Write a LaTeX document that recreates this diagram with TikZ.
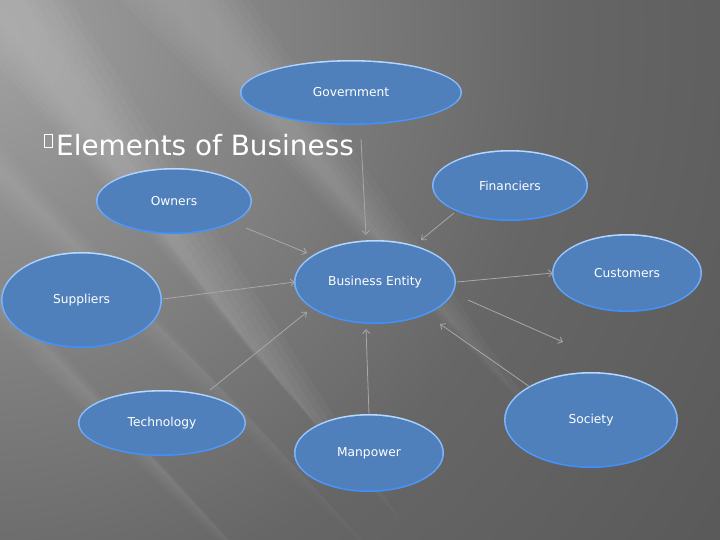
\documentclass[tikz,border=0pt]{standalone}
\usepackage{fontspec}
\setmainfont{DejaVu Sans}
\usetikzlibrary{shapes.geometric,arrows.meta}

\definecolor{bubblefill}{HTML}{4F80BB}
\definecolor{rimtop}{HTML}{B8DAFF}
\definecolor{rimbot}{HTML}{3C8EFF}
\definecolor{linkgray}{HTML}{A8A8A8}
\definecolor{bgA}{HTML}{A2A2A2}
\definecolor{bgB}{HTML}{8A8A8A}
\definecolor{bgC}{HTML}{666666}
\definecolor{bgD}{HTML}{525252}
\definecolor{bgE}{HTML}{474747}

% soft radial glow for the backdrop
\pgfdeclareradialshading{backglow}{\pgfpoint{0bp}{0bp}}{%
  color(0bp)=(bgA); color(6bp)=(bgB); color(16bp)=(bgC);
  color(30bp)=(bgD); color(50bp)=(bgE)}

\tikzset{
  bubble/.style 2 args={ellipse, minimum width=#1bp, minimum height=#2bp,
    inner sep=0pt, outer sep=0pt, top color=rimtop, bottom color=rimbot,
    text=white, font=\fontsize{12.3}{14}\selectfont,
    path picture={\fill[bubblefill] (path picture bounding box.center)
      ellipse [x radius=#1/2-1.6, y radius=#2/2-1.6];}},
  link/.style={draw=linkgray, line width=0.8bp,
    -{Straight Barb[length=4bp,width=7bp]}},
  streak/.style={fill=white, opacity=#1}
}

\begin{document}
\begin{tikzpicture}[x=1bp, y=-1bp]
  \useasboundingbox (0,0) rectangle (720,540);

  % backdrop: radial glow plus soft light rays from the upper left;
  % every inner layer of a ray is narrower and stops earlier, so it fades out
  \begin{scope}
    \clip (0,0) rectangle (720,540);
    \shade[shading=backglow] (-20,40) circle (900);
    % each ray: top-edge intercepts, far tip, strength
    \foreach \a/\b/\tx/\ty/\op in {-60/70/400/520/0.03,
                                   120/250/540/420/0.028,
                                   -340/-250/300/620/0.022,
                                   -220/-130/380/560/0.018} {
      \foreach \k in {0,...,5} {
        \fill[streak=\op] (\a+\k*9,0) -- (\b-\k*9,0)
          -- (\tx-\k*26,\ty-\k*29) -- cycle;
      }
    }
  \end{scope}

  % title
  \draw[white, line width=0.6bp] (44,134) rectangle (52,147);
  \node[anchor=base west, inner sep=0pt, text=white,
        font=\fontsize{28}{32}\selectfont] (title) at (56,156) {Elements of Business};

  % bubbles
  \node[bubble={222}{65}] (gov)  at (351,92.5) {Government};
  \node[bubble={156}{71}] (fin)  at (510,185.5) {Financiers};
  \node[bubble={156}{66}] (own)  at (174,201) {Owners};
  \node[bubble={161}{96}] (sup)  at (81.5,300) {Suppliers};
  \node[bubble={162}{84}] (be)   at (375,282) {Business Entity};
  \node[bubble={150}{78}] (cus)  at (627,273) {Customers};
  \node[bubble={168}{66}] (tech) at (162,423) {Technology};
  \node[bubble={150}{78}] (man)  at (369,453) {Manpower};
  \node[bubble={174}{96}] (soc)  at (591,420) {Society};

  % connector end points
  \coordinate (gov-out)  at (361,139);
  \coordinate (be-n)     at (366,235);
  \coordinate (fin-out)  at (454,213);
  \coordinate (be-ne)    at (421,240);
  \coordinate (own-out)  at (246,228);
  \coordinate (be-nw)    at (307,253);
  \coordinate (sup-out)  at (163,299);
  \coordinate (be-w)     at (295,282);
  \coordinate (be-e)     at (457,282);
  \coordinate (cus-in)   at (553,273);
  \coordinate (be-se)    at (468,300);
  \coordinate (open-end) at (563,342);
  \coordinate (soc-out)  at (530,387);
  \coordinate (be-s2)    at (440,324);
  \coordinate (tech-out) at (210,390);
  \coordinate (be-sw)    at (307,312);
  \coordinate (man-out)  at (369,414);
  \coordinate (be-s)     at (366,329);

  % connectors
  \draw[link] (gov-out)  -- (be-n);
  \draw[link] (fin-out)  -- (be-ne);
  \draw[link] (own-out)  -- (be-nw);
  \draw[link] (sup-out)  -- (be-w);
  \draw[link] (be-e)     -- (cus-in);
  \draw[link] (be-se)    -- (open-end);
  \draw[link] (soc-out)  -- (be-s2);
  \draw[link] (tech-out) -- (be-sw);
  \draw[link] (man-out)  -- (be-s);
\end{tikzpicture}
\end{document}
